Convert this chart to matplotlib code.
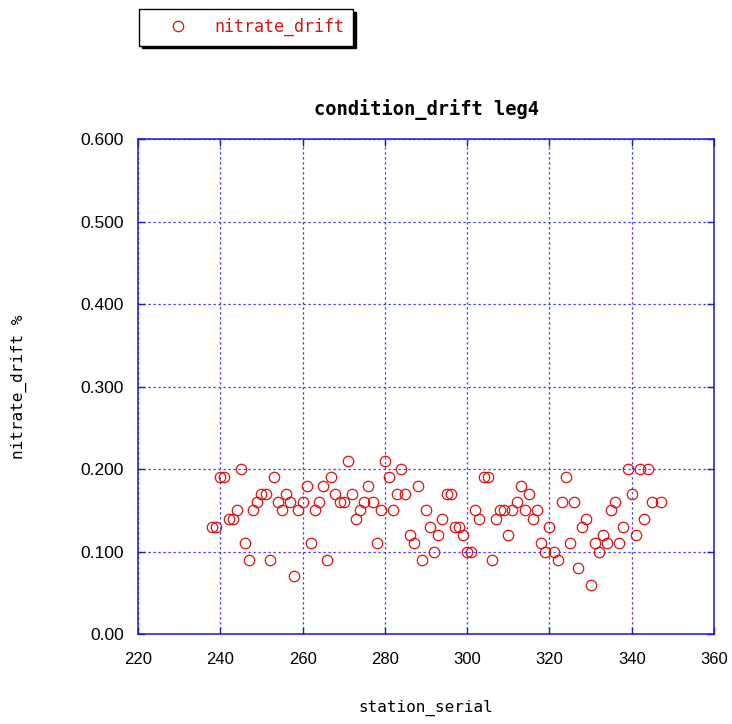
import matplotlib
matplotlib.use("Agg")
import matplotlib.pyplot as plt

# station serial numbers and nitrate drift values (%)
stations = [
    238, 239, 240, 241, 242, 243, 244, 245, 246, 247, 248, 249, 250, 251, 252,
    253, 254, 255, 256, 257, 258, 259, 260, 261, 262, 263, 264, 265, 266, 267,
    268, 269, 270, 271, 272, 273, 274, 275, 276, 277, 278, 279, 280, 281, 282,
    283, 284, 285, 286, 287, 288, 289, 290, 291, 292, 293, 294, 295, 296, 297,
    298, 299, 300, 301, 302, 303, 304, 305, 306, 307, 308, 309, 310, 311, 312,
    313, 314, 315, 316, 317, 318, 319, 320, 321, 322, 323, 324, 325, 326, 327,
    328, 329, 330, 331, 332, 333, 334, 335, 336, 337, 338, 339, 340, 341, 342,
    343, 344, 345, 347,
]
nitrate_drift = [
    0.13, 0.13, 0.19, 0.19, 0.14, 0.14, 0.15, 0.20, 0.11, 0.09, 0.15, 0.16, 0.17, 0.17, 0.09,
    0.19, 0.16, 0.15, 0.17, 0.16, 0.07, 0.15, 0.16, 0.18, 0.11, 0.15, 0.16, 0.18, 0.09, 0.19,
    0.17, 0.16, 0.16, 0.21, 0.17, 0.14, 0.15, 0.16, 0.18, 0.16, 0.11, 0.15, 0.21, 0.19, 0.15,
    0.17, 0.20, 0.17, 0.12, 0.11, 0.18, 0.09, 0.15, 0.13, 0.10, 0.12, 0.14, 0.17, 0.17, 0.13,
    0.13, 0.12, 0.10, 0.10, 0.15, 0.14, 0.19, 0.19, 0.09, 0.14, 0.15, 0.15, 0.12, 0.15, 0.16,
    0.18, 0.15, 0.17, 0.14, 0.15, 0.11, 0.10, 0.13, 0.10, 0.09, 0.16, 0.19, 0.11, 0.16, 0.08,
    0.13, 0.14, 0.06, 0.11, 0.10, 0.12, 0.11, 0.15, 0.16, 0.11, 0.13, 0.20, 0.17, 0.12, 0.20,
    0.14, 0.20, 0.16, 0.16,
]

x_ticks = [220, 240, 260, 280, 300, 320, 340, 360]
y_ticks = [0.0, 0.1, 0.2, 0.3, 0.4, 0.5, 0.6]
y_tick_labels = ["0.00", "0.100", "0.200", "0.300", "0.400", "0.500", "0.600"]

title = "condition_drift leg4"
x_label = "station_serial"
y_label = "nitrate_drift %"
series_name = "nitrate_drift"

frame_blue = "#1a1ad6"
grid_blue = "#3535ff"
mark_red = "#e01010"
mono = ["DejaVu Sans Mono"]
sans = ["Liberation Sans", "DejaVu Sans"]

fig = plt.figure(figsize=(7.32, 7.24), dpi=100)
ax = fig.add_axes([138 / 732, 1 - 634 / 724, 576 / 732, 495 / 724])

ax.plot(stations, nitrate_drift, linestyle="none", marker="o", markersize=7.5,
        markerfacecolor="none", markeredgecolor=mark_red, markeredgewidth=0.9,
        label=series_name)

ax.set_xlim(220, 360)
ax.set_ylim(0.0, 0.6)
ax.set_xticks(x_ticks)
ax.set_xticklabels([str(v) for v in x_ticks], fontfamily=sans, fontsize=12)
ax.set_yticks(y_ticks)
ax.set_yticklabels(y_tick_labels, fontfamily=sans, fontsize=12.5)

ax.grid(True, color=grid_blue, linestyle=(0, (1.8, 2.2)), linewidth=0.9)
ax.set_axisbelow(True)
for sp in ax.spines.values():
    sp.set_color(frame_blue)
    sp.set_linewidth(1.1)
ax.tick_params(axis="both", direction="in", length=5, width=1.0, color=frame_blue,
               top=True, right=True, labelcolor="black")
ax.tick_params(axis="x", pad=13)
ax.tick_params(axis="y", pad=10)

ax.set_title(title, fontfamily=mono, fontweight="bold", fontsize=13.5, pad=17)
ax.set_xlabel(x_label, fontfamily=mono, fontsize=11.5)
ax.set_ylabel(y_label, fontfamily=mono, fontsize=11.5)
ax.xaxis.set_label_coords(0.5, (634 - 700) / 495)
ax.yaxis.set_label_coords((27 - 138) / 576, 0.5)

leg = fig.legend(loc="upper left", bbox_to_anchor=(139 / 732, 1 - 9 / 724),
                 borderaxespad=0, frameon=True, fancybox=False,
                 edgecolor="black", framealpha=1,
                 shadow={"color": "black", "alpha": 1},
                 prop={"family": mono, "size": 12},
                 borderpad=0.55, handlelength=3.6, handletextpad=0.35)
leg.get_frame().set_linewidth(1.0)
for t in leg.get_texts():
    t.set_color(mark_red)

fig.savefig("out.png", dpi=100)
